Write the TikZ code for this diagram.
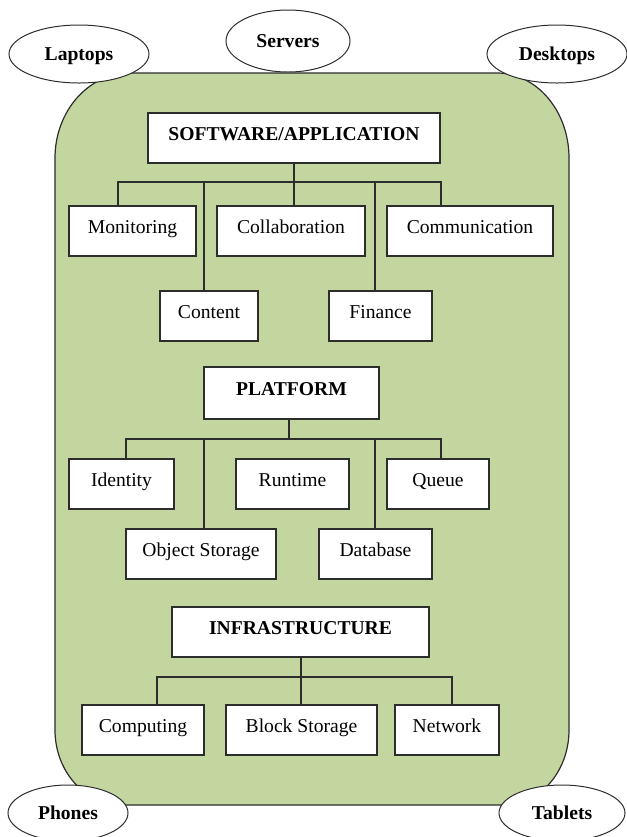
\documentclass[tikz,border=0pt]{standalone}
\usepackage{fontspec}
\setmainfont{Liberation Serif}
\usepackage{tikz}
\usetikzlibrary{shapes.geometric}
\usepackage{xcolor}
\definecolor{cloudgreen}{RGB}{196,214,160}
\definecolor{edgegray}{RGB}{45,45,45}
\tikzset{
    box/.style={draw=edgegray,fill=white,line width=0.6pt,inner sep=0pt,minimum height=25pt,text height=7pt,text depth=5pt},
    layer/.style={box,font=\fontsize{9.8pt}{11pt}\selectfont\bfseries},
    device/.style={ellipse,draw=edgegray,fill=white,line width=0.5pt,inner sep=0pt,text height=6.5pt,text depth=0pt,font=\fontsize{9.8pt}{11pt}\selectfont\bfseries},
    wire/.style={draw=edgegray,line width=0.6pt},
}

\begin{document}
\begin{tikzpicture}[x=0.5pt,y=-0.5pt,font=\fontsize{9.8pt}{11pt}\selectfont]
    \useasboundingbox (0,0) rectangle (627,837);

    % the cloud
    \draw[draw=edgegray,line width=0.6pt,fill=cloudgreen]
        (130,73) -- (497,73) arc[start angle=270,end angle=360,x radius=72,y radius=85]
        -- (569,730) arc[start angle=0,end angle=90,x radius=65,y radius=75]
        -- (122,805) arc[start angle=90,end angle=180,x radius=67,y radius=75]
        -- (55,158) arc[start angle=180,end angle=270,x radius=75,y radius=85] -- cycle;

    \node[device,minimum width=70pt,minimum height=29pt] (laptops) at (79,54) {Laptops};
    \node[device,minimum width=62pt,minimum height=31pt] (servers) at (288,41) {Servers};
    \node[device,minimum width=70pt,minimum height=29pt] (desktops) at (557,54) {Desktops};
    \node[device,minimum width=60pt,minimum height=28pt] (phones) at (68,813) {Phones};
    \node[device,minimum width=63pt,minimum height=28pt] (tablets) at (562,813) {Tablets};

    % software / application
    \node[layer,minimum width=146pt] (software) at (294,138) {SOFTWARE/APPLICATION};
    \node[box,minimum width=63.5pt] (monitoring) at (132.5,231) {Monitoring};
    \node[box,minimum width=74pt] (collaboration) at (291,231) {Collaboration};
    \node[box,minimum width=83pt] (communication) at (470,231) {Communication};
    \node[box,minimum width=49pt] (content) at (209,316) {Content};
    \node[box,minimum width=51.5pt] (finance) at (380.5,316) {Finance};

    \coordinate (swbar) at (0,182);
    \coordinate (mondrop) at ([xshift=-7.25pt]monitoring.north);
    \coordinate (comdrop) at ([xshift=-14.5pt]communication.north);
    \coordinate (condrop) at ([xshift=-2.5pt]content.north);
    \coordinate (findrop) at ([xshift=-2.75pt]finance.north);
    \draw[wire] (mondrop) |- (comdrop |- swbar) -- (comdrop);
    \foreach \drop in {condrop,findrop}
        \draw[wire] (\drop) -- (\drop |- swbar);
    \draw[wire] (software.south) -- (software.south |- collaboration.north);

    % platform
    \node[layer,minimum width=87.5pt,minimum height=26pt] (platform) at (291.5,393) {PLATFORM};
    \node[box,minimum width=52.5pt] (identity) at (121.5,484) {Identity};
    \node[box,minimum width=56.5pt] (runtime) at (292.5,484) {Runtime};
    \node[box,minimum width=51pt] (queue) at (438,484) {Queue};
    \node[box,minimum width=75pt] (objstorage) at (201,554) {Object Storage};
    \node[box,minimum width=56.5pt] (database) at (375.5,554) {Database};

    \coordinate (pfbar) at (0,439);
    \coordinate (iddrop) at ([xshift=2.25pt]identity.north);
    \coordinate (quedrop) at ([xshift=1.5pt]queue.north);
    \coordinate (objdrop) at ([xshift=1.5pt]objstorage.north);
    \coordinate (dbdrop) at ([xshift=-0.25pt]database.north);
    \draw[wire] (iddrop) |- (quedrop |- pfbar) -- (quedrop);
    \foreach \drop in {objdrop,dbdrop}
        \draw[wire] (\drop) -- (\drop |- pfbar);
    \draw[wire] ([xshift=-1.25pt]platform.south) -- ([xshift=-1.25pt]platform.south |- pfbar);

    % infrastructure
    \node[layer,minimum width=128.5pt] (infrastructure) at (300.5,632) {INFRASTRUCTURE};
    \node[box,minimum width=61pt] (computing) at (143,730) {Computing};
    \node[box,minimum width=75.5pt] (blockstorage) at (301.5,730) {Block Storage};
    \node[box,minimum width=52pt] (network) at (447,730) {Network};

    \coordinate (infbar) at (0,677);
    \coordinate (cmpdrop) at ([xshift=7pt]computing.north);
    \coordinate (netdrop) at ([xshift=2.5pt]network.north);
    \coordinate (blkdrop) at ([xshift=0.25pt]infrastructure.south);
    \draw[wire] (cmpdrop) |- (netdrop |- infbar) -- (netdrop);
    \draw[wire] (blkdrop) -- (blkdrop |- blockstorage.north);
\end{tikzpicture}
\end{document}
